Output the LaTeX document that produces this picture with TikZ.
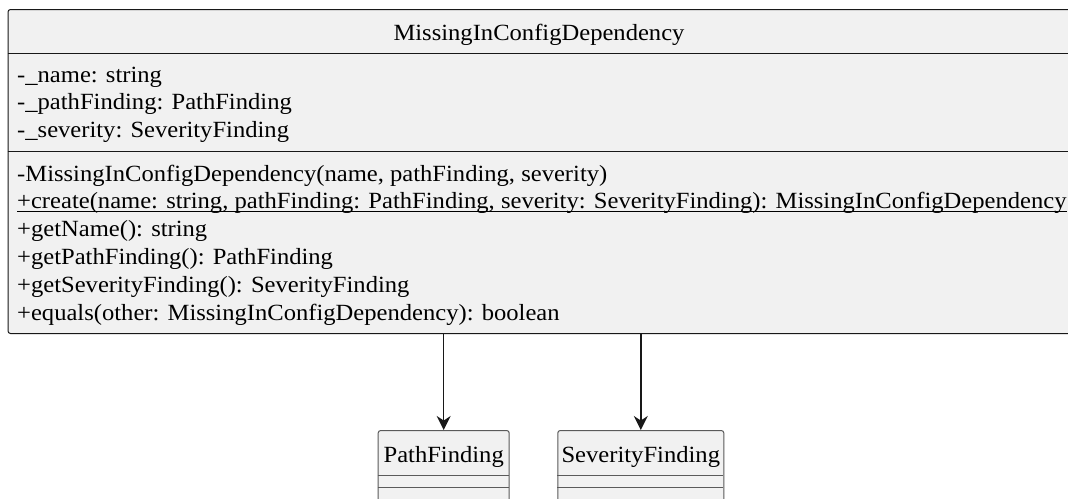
\documentclass[tikz,border=0pt]{standalone}
\usepackage{fontspec}
\setmainfont[FakeStretch=1.06]{Liberation Serif}
\usetikzlibrary{arrows.meta}
\definecolor{boxfill}{HTML}{F1F1F1}
\definecolor{boxline}{HTML}{181818}
\definecolor{smallline}{HTML}{5A5A5A}
\tikzset{
  x=1pt, y=-1pt,
  classbox/.style={draw=boxline, fill=boxfill, line width=1pt, rounded corners=2.5pt, inner sep=0pt},
  smallbox/.style={draw=smallline, fill=boxfill, line width=1pt, rounded corners=2.5pt, inner sep=0pt},
  member/.style={anchor=base west, inner sep=0pt, font=\fontsize{23.2}{28}\selectfont},
  caption/.style={anchor=base, inner sep=0pt, font=\fontsize{23.2}{28}\selectfont},
  sep/.style={draw=boxline, line width=1pt},
  smallsep/.style={draw=smallline, line width=1pt},
  uline/.style={draw=black, line width=0.9pt},
  assoc/.style={draw=boxline, line width=1.5pt, -{Stealth[length=14pt, width=14pt, inset=4.5pt]}}
}
\begin{document}
\begin{tikzpicture}
\clip (0,0) rectangle (1068,498);
\fill[white] (0,0) rectangle (1068,498);

% class MissingInConfigDependency
\node[classbox, anchor=north west, minimum width=1064pt, minimum height=324pt] (main) at (7.5,9) {};
\draw[sep] (7.5,53) -- (1071.5,53);
\draw[sep] (7.5,151) -- (1071.5,151);
\node[caption] (title) at (539,40) {MissingInConfigDependency};

\node[member] (a1) at (17,82) {-\_name: string};
\node[member] (a2) at (17,109) {-\_pathFinding: PathFinding};
\node[member] (a3) at (17,137) {-\_severity: SeverityFinding};

\node[member] (m1) at (17,181) {-MissingInConfigDependency(name, pathFinding, severity)};
\node[member] (m2) at (17,208) {+create(name: string, pathFinding: PathFinding, severity: SeverityFinding): MissingInConfigDependency};
\draw[uline] ([yshift=-3.5pt]m2.base west) -- ([yshift=-3.5pt]m2.base east);
\node[member] (m3) at (17,236) {+getName(): string};
\node[member] (m4) at (17,264) {+getPathFinding(): PathFinding};
\node[member] (m5) at (17,292) {+getSeverityFinding(): SeverityFinding};
\node[member] (m6) at (17,320) {+equals(other: MissingInConfigDependency): boolean};

% class PathFinding
\node[smallbox, anchor=north west, minimum width=131pt, minimum height=80pt] (pf) at (377.7,430) {};
\node[caption] (pft) at (pf.north |- 0,462) {PathFinding};
\draw[smallsep] (377.7,475) -- (508.7,475);
\draw[smallsep] (377.7,487.7) -- (508.7,487.7);

% class SeverityFinding
\node[smallbox, anchor=north west, minimum width=166pt, minimum height=80pt] (sf) at (557.3,430) {};
\node[caption] (sft) at (sf.north |- 0,462) {SeverityFinding};
\draw[smallsep] (557.3,475) -- (723.3,475);
\draw[smallsep] (557.3,487.7) -- (723.3,487.7);

% associations
\draw[assoc] (main.south -| pf.north) -- (pf.north);
\draw[assoc] (main.south -| sf.north) -- (sf.north);
\end{tikzpicture}
\end{document}
